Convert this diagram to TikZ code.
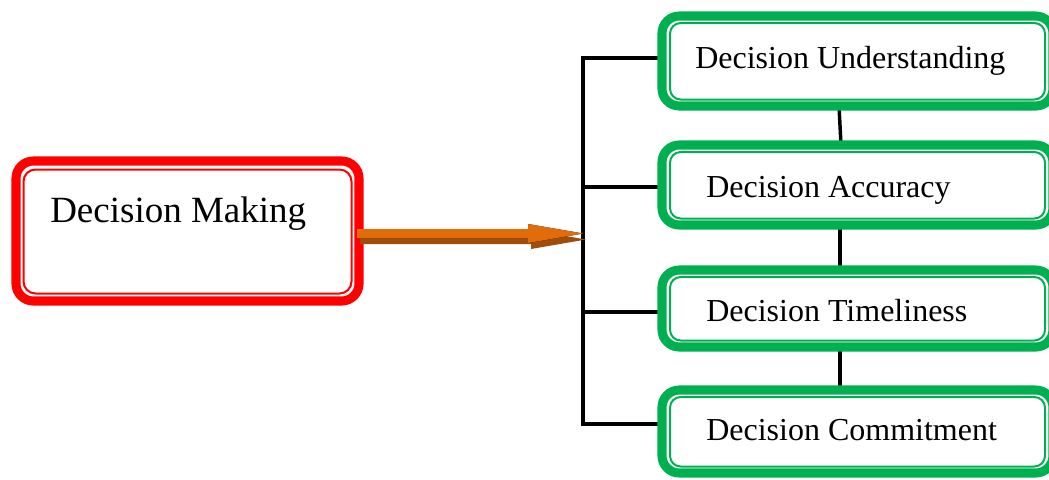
\documentclass[tikz,border=0pt]{standalone}
\usepackage{fontspec}
\setmainfont{Liberation Serif}
\usetikzlibrary{calc,backgrounds}
\definecolor{boxred}{HTML}{FF0000}
\definecolor{boxgreen}{HTML}{00B050}
\definecolor{arrorange}{HTML}{E26B0A}
\definecolor{arrlight}{HTML}{F7A855}
\definecolor{arrshadow}{HTML}{9E4D0B}
\begin{document}
\begin{tikzpicture}[x=0.75pt,y=-0.75pt,
  outerbox/.style={rectangle, fill=white, line width=6.8pt, outer sep=0pt, inner sep=0pt, rounded corners=13pt},
  redbox/.style={outerbox, draw=boxred, minimum width=257.25pt, minimum height=105pt},
  gbox/.style={outerbox, draw=boxgreen, minimum width=293.25pt},
  redthin/.style={draw=boxred, line width=1.5pt, rounded corners=9pt},
  gthin/.style={draw=boxgreen, line width=1.5pt, rounded corners=8pt},
  lbl/.style={inner sep=0pt, anchor=base west, font=\fontsize{24pt}{28pt}\selectfont},
  biglbl/.style={inner sep=0pt, anchor=base west, font=\fontsize{27.75pt}{32pt}\selectfont},
  tree/.style={draw=black, line width=2.6pt, line join=miter}
]
\useasboundingbox (0,0) rectangle (1049,479);

% red box
\node[redbox] (rb) at (187.5,231) {};
\draw[redthin] ($(rb.north west)+(7.5,8.5)$) rectangle ($(rb.south east)+(-7.5,-7.5)$);
\node[biglbl] (tm) at (50,222) {Decision Making};

% green boxes
\node[gbox, minimum height=67.5pt] (b1) at (857.5,61) {};
\node[gbox, minimum height=60pt] (b2) at (857.5,185) {};
\node[gbox, minimum height=57.75pt] (b3) at (857.5,308.5) {};
\node[gbox, minimum height=62.25pt] (b4) at (857.5,431.5) {};
\foreach \b in {b1,b2,b3,b4}{
  \draw[gthin] ($(\b.north west)+(8,7)$) rectangle ($(\b.south east)+(-8,-6.5)$);
}
\node[lbl] (t1) at (695,68) {Decision Understanding};
\node[lbl] (t2) at (706,197) {Decision Accuracy};
\node[lbl] (t3) at (706,321) {Decision Timeliness};
\node[lbl] (t4) at (706,440) {Decision Commitment};

% connectors
\coordinate (j1) at (583,58);
\coordinate (j2) at (583,187);
\coordinate (j3) at (583,312);
\coordinate (j4) at (583,424);
\coordinate (vx) at (840,0);
\begin{pgfonlayer}{background}
  \draw[tree] (j1 -| b1.west) -- (j1) -- (j4) -- (j4 -| b4.west);
  \draw[tree] (j2) -- (j2 -| b2.west);
  \draw[tree] (j3) -- (j3 -| b3.west);
  \draw[tree] ($(b1.south -| vx)+(-1,0)$) -- ($(b2.north -| vx)+(1,0)$);
  \draw[tree] (b2.south -| vx) -- (b3.north -| vx);
  \draw[tree] (b3.south -| vx) -- (b4.north -| vx);
\end{pgfonlayer}

% arrow from red box to the tree
\coordinate (as) at (357,233.5);
\coordinate (ae) at (j2 |- as);
\fill[arrshadow] ($(as)+(3,1.5)$) -- ($(ae)+(-52,1.5)$) -- ($(ae)+(-52,-3.5)$) -- ($(ae)+(3,6)$)
  -- ($(ae)+(-52,15.5)$) -- ($(ae)+(-52,10.5)$) -- ($(as)+(3,10.5)$) -- cycle;
\fill[left color=arrorange, middle color=arrlight, right color=arrorange]
  ($(as)+(0,-4.5)$) -- ($(ae)+(-55,-4.5)$) -- ($(ae)+(-55,-9.5)$) -- (ae)
  -- ($(ae)+(-55,9.5)$) -- ($(ae)+(-55,4.5)$) -- ($(as)+(0,4.5)$) -- cycle;
\end{tikzpicture}
\end{document}
